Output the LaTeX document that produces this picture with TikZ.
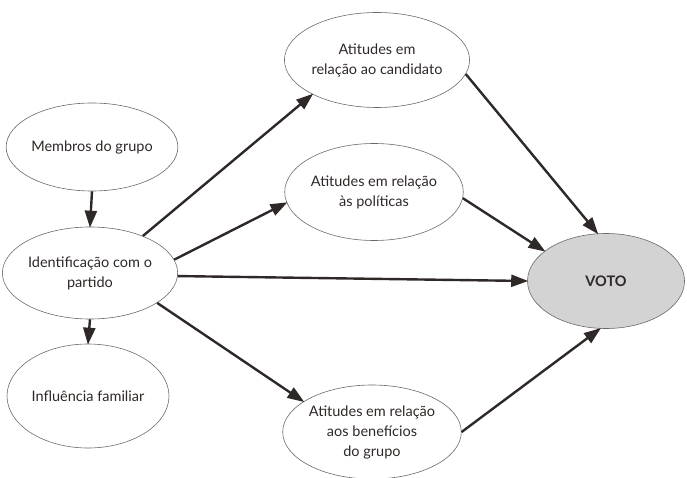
\documentclass[tikz,border=0pt]{standalone}
\usepackage{fontspec}
\setmainfont{Lato}
\usetikzlibrary{arrows.meta,shapes.geometric}
\definecolor{ink}{HTML}{2E2826}
\definecolor{rim}{HTML}{6A6A6A}
\definecolor{shade}{HTML}{D3D3D3}

\begin{document}
\begin{tikzpicture}[x=1pt,y=-1pt,text=ink,>={Triangle[length=17pt,width=12pt]},
  bubble/.style={ellipse,draw=rim,line width=.6pt,inner sep=0pt,align=center,
    font=\fontsize{14.5}{20}\selectfont},
  link/.style={->,ink,line width=2.4pt,shorten >=-1pt}]
  \useasboundingbox (0,0) rectangle (687,478);

  \node[bubble,minimum width=168,minimum height=88] (grupo) at (92,147)
    {Membros do grupo};
  \node[bubble,minimum width=164,minimum height=92] (partido) at (90,273)
    {Identificação com o\\partido};
  \node[bubble,minimum width=162,minimum height=104] (familia) at (88,396)
    {Influência familiar};

  \node[bubble,minimum width=164,minimum height=95] (candidato) at (377,60)
    {Atitudes em\\relação ao candidato};
  \node[bubble,minimum width=158,minimum height=97] (politicas) at (374,192)
    {Atitudes em relação\\às políticas};
  \node[bubble,minimum width=160,minimum height=94] (beneficios) at (372,432)
    {Atitudes em relação\\aos benefícios\\do grupo};

  \node[bubble,fill=shade,minimum width=157,minimum height=95] (voto) at (606,281)
    {\bfseries VOTO};

  \draw[link] (grupo.south) -- (partido.north);
  \draw[link] (partido.south) -- (familia.north);
  \draw[link] (partido.35) -- (candidato.-152);
  \draw[link] (partido.9) -- (politicas.-173);
  \draw[link] (partido.-2) -- (voto.180);
  \draw[link] (partido.-24) -- (beneficios.156);

  \draw[link] (candidato.-9) -- (voto.100);
  \draw[link] (politicas.-4) -- (voto.154);
  \draw[link] (beneficios.0) -- (voto.-97);
\end{tikzpicture}
\end{document}
